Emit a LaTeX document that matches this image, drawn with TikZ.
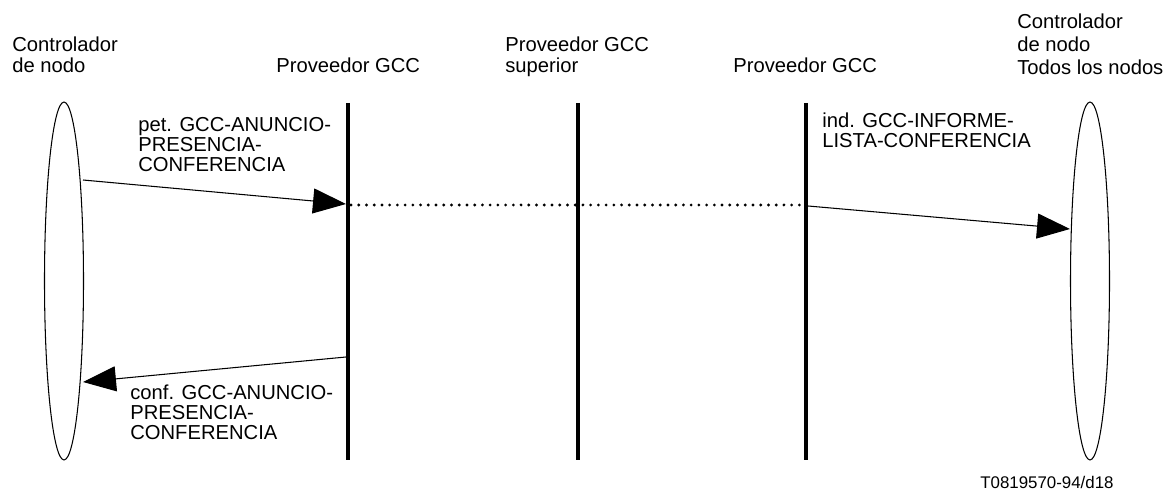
\documentclass[tikz,border=0pt]{standalone}
\usepackage{fontspec}
\setmainfont{Liberation Sans}
\usetikzlibrary{arrows.meta,shapes.geometric}

\begin{document}
\begin{tikzpicture}[x=0.02cm,y=-0.02cm,>={Triangle[length=0.66cm,width=0.5cm]},
		head/.style={anchor=base west,align=left,inner sep=0pt,font=\fontsize{11.5}{12}\selectfont},
		lbl/.style={anchor=base west,align=left,inner sep=0pt,font=\fontsize{11.5}{11.4}\selectfont},
		lifeline/.style={line width=2.3pt},
		ctl/.style={draw,ellipse,line width=0.6pt,minimum width=0.78cm,minimum height=7.16cm,inner sep=0pt}]
				\useasboundingbox (0,0) rectangle (1170,492);
				% controllers
				\node[ctl] (ctlA) at (64,281) {};
				\node[ctl] (ctlB) at (1090,281) {};
				% providers
				\coordinate (pA) at (348,103);
				\coordinate (pAb) at (348,460);
				\coordinate (pB) at (578,103);
				\coordinate (pBb) at (578,460);
				\coordinate (pC) at (806,103);
				\coordinate (pCb) at (806,460);
				\draw[lifeline](pA)--(pAb);
				\draw[lifeline](pB)--(pBb);
				\draw[lifeline](pC)--(pCb);
				% headings (placed at the baseline of their last line)
				\node[head] (hA) at (12,73) {Controlador\\de nodo};
				\node[head] (hB) at (276,73) {Proveedor GCC};
				\node[head] (hC) at (505,73) {Proveedor GCC\\superior};
				\node[head] (hD) at (733,73) {Proveedor GCC};
				\node[head,font=\fontsize{11.5}{13.3}\selectfont] (hE) at (1017,75) {Controlador\\de nodo\\Todos los nodos};
				% messages
				\coordinate (m1s) at (83,180);
				\coordinate (m1e) at (346,204);
				\coordinate (dA) at (351,205);
				\coordinate (dC) at (803,205);
				\coordinate (m2s) at (808,206);
				\coordinate (m2e) at (1070,229);
				\coordinate (m3s) at (346,357);
				\coordinate (m3e) at (83,382);
				\draw[->,line width=0.6pt](m1s)--(m1e);
				\draw[line width=1.8pt,line cap=round,dash pattern=on 0pt off 4.4pt](dA)--(dC);
				\draw[->,line width=0.6pt](m2s)--(m2e);
				\draw[->,line width=0.6pt](m3s)--(m3e);
				\node[lbl] (lPet) at (138,172) {pet. GCC-ANUNCIO-\\PRESENCIA-\\CONFERENCIA};
				\node[lbl] (lInd) at (822,148) {ind. GCC-INFORME-\\LISTA-CONFERENCIA};
				\node[lbl] (lConf) at (130,440) {conf. GCC-ANUNCIO-\\PRESENCIA-\\CONFERENCIA};
				\node[anchor=base west,inner sep=0pt,font=\fontsize{9.6}{11}\selectfont] (ref) at (980,489) {T0819570-94/d18};
			\end{tikzpicture}
\end{document}
